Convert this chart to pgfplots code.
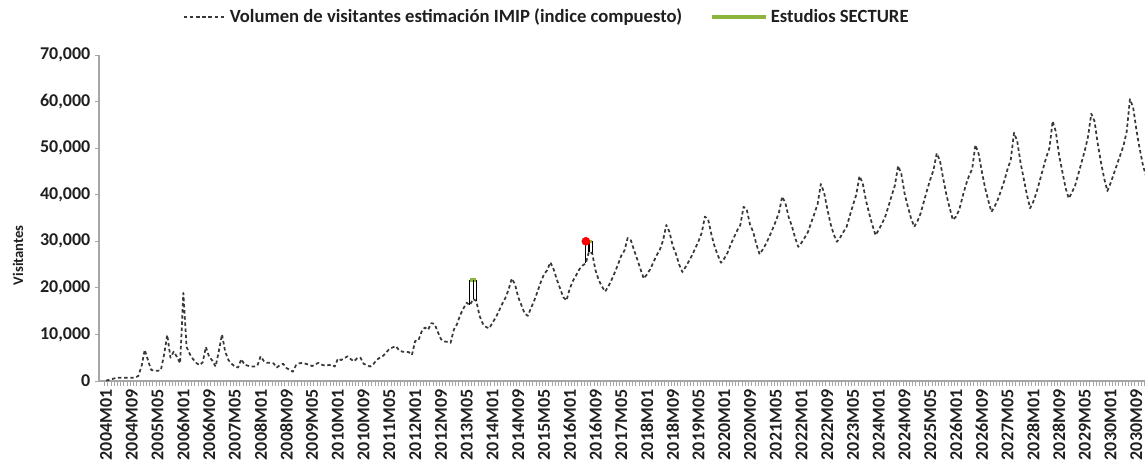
\documentclass[border=0pt]{standalone}
\usepackage{fontspec}
\setmainfont{Carlito}
\usepackage{pgfplots}
\pgfplotsset{compat=1.18}
\usepackage{pgfplotstable}
\definecolor{secgreen}{HTML}{8DB53E}
\definecolor{axgray}{HTML}{A6A6A6}
\definecolor{linegray}{HTML}{383838}
\pgfplotstableread[row sep=\\]{
m v\\
0 100\\ 1 250\\ 2 450\\ 3 650\\ 4 700\\ 5 700\\ 6 700\\ 7 700\\ 8 700\\ 9 700\\ 10 1100\\ 11 3100\\
12 6700\\ 13 4500\\ 14 2400\\ 15 2200\\ 16 2200\\ 17 2300\\ 18 5600\\ 19 9900\\ 20 5000\\ 21 6300\\ 22 5200\\ 23 3800\\
24 18900\\ 25 7300\\ 26 5800\\ 27 4700\\ 28 3900\\ 29 3400\\ 30 4000\\ 31 7300\\ 32 5200\\ 33 4400\\ 34 3100\\ 35 6300\\
36 10000\\ 37 6300\\ 38 4500\\ 39 3700\\ 40 3100\\ 41 2900\\ 42 4700\\ 43 3500\\ 44 3300\\ 45 3100\\ 46 3100\\ 47 3300\\
48 5300\\ 49 4300\\ 50 3900\\ 51 3900\\ 52 3800\\ 53 2900\\ 54 3400\\ 55 3700\\ 56 2800\\ 57 2400\\ 58 2000\\ 59 3400\\
60 3800\\ 61 3900\\ 62 3700\\ 63 3500\\ 64 3200\\ 65 3600\\ 66 3900\\ 67 3500\\ 68 3300\\ 69 3400\\ 70 3500\\ 71 3100\\
72 4800\\ 73 4500\\ 74 4900\\ 75 5300\\ 76 4700\\ 77 4200\\ 78 4900\\ 79 5000\\ 80 3700\\ 81 3400\\ 82 3100\\ 83 3600\\
84 4500\\ 85 5000\\ 86 5400\\ 87 6100\\ 88 6900\\ 89 7200\\ 90 7500\\ 91 6600\\ 92 6300\\ 93 6300\\ 94 6200\\ 95 5600\\
96 8600\\ 97 8700\\ 98 10600\\ 99 11500\\ 100 11000\\ 101 12400\\ 102 12300\\ 103 10600\\ 104 9000\\ 105 8500\\ 106 8400\\ 107 8200\\
108 11000\\ 109 12200\\ 110 14200\\ 111 15600\\ 112 16800\\ 113 16300\\ 114 17600\\ 115 17200\\ 116 14000\\ 117 12300\\ 118 11600\\ 119 11300\\
120 12500\\ 121 13600\\ 122 15000\\ 123 16500\\ 124 17800\\ 125 19600\\ 126 22000\\ 127 20800\\ 128 18000\\ 129 16300\\ 130 14500\\ 131 14000\\
132 15700\\ 133 17300\\ 134 19200\\ 135 21200\\ 136 22900\\ 137 23800\\ 138 25500\\ 139 24000\\ 140 21800\\ 141 19900\\ 142 18000\\ 143 17300\\
144 19800\\ 145 21500\\ 146 22700\\ 147 24000\\ 148 24800\\ 149 25300\\ 150 27800\\ 151 27400\\ 152 23800\\ 153 21700\\ 154 20300\\ 155 19200\\
156 20300\\ 157 21700\\ 158 23300\\ 159 25000\\ 160 26900\\ 161 28000\\ 162 30700\\ 163 30200\\ 164 28100\\ 165 26100\\ 166 24000\\ 167 22000\\
168 22900\\ 169 24000\\ 170 25500\\ 171 27000\\ 172 28200\\ 173 30200\\ 174 33500\\ 175 32000\\ 176 29000\\ 177 27300\\ 178 25000\\ 179 23400\\
180 24500\\ 181 25700\\ 182 27000\\ 183 28500\\ 184 30000\\ 185 31800\\ 186 35300\\ 187 34700\\ 188 31500\\ 189 28900\\ 190 27000\\ 191 25400\\
192 26300\\ 193 27500\\ 194 29300\\ 195 30800\\ 196 32300\\ 197 33500\\ 198 37400\\ 199 36800\\ 200 33600\\ 201 32000\\ 202 29300\\ 203 27200\\
204 28300\\ 205 29500\\ 206 31000\\ 207 32600\\ 208 34300\\ 209 36200\\ 210 39600\\ 211 38200\\ 212 35200\\ 213 33300\\ 214 30800\\ 215 28800\\
216 29700\\ 217 30800\\ 218 32000\\ 219 34000\\ 220 35900\\ 221 38000\\ 222 42300\\ 223 40500\\ 224 37000\\ 225 33800\\ 226 31500\\ 227 29900\\
228 30800\\ 229 32000\\ 230 33100\\ 231 35500\\ 232 37800\\ 233 40000\\ 234 44000\\ 235 42500\\ 236 38800\\ 237 36000\\ 238 33500\\ 239 31300\\
240 32500\\ 241 33800\\ 242 35300\\ 243 37500\\ 244 39800\\ 245 42000\\ 246 46200\\ 247 44500\\ 248 40300\\ 249 37500\\ 250 35000\\ 251 33100\\
252 34300\\ 253 36000\\ 254 38500\\ 255 41000\\ 256 43300\\ 257 45300\\ 258 48900\\ 259 47300\\ 260 43500\\ 261 40000\\ 262 37200\\ 263 34600\\
264 35300\\ 265 36800\\ 266 39500\\ 267 42000\\ 268 44000\\ 269 45500\\ 270 50700\\ 271 48800\\ 272 45000\\ 273 41500\\ 274 38800\\ 275 36300\\
276 37500\\ 277 39000\\ 278 41000\\ 279 43000\\ 280 45500\\ 281 47500\\ 282 53300\\ 283 51500\\ 284 47000\\ 285 43500\\ 286 40000\\ 287 37100\\
288 38500\\ 289 40500\\ 290 43000\\ 291 45500\\ 292 48000\\ 293 50000\\ 294 55800\\ 295 53500\\ 296 48500\\ 297 45000\\ 298 41500\\ 299 39200\\
300 40500\\ 301 42000\\ 302 44500\\ 303 47000\\ 304 49500\\ 305 52500\\ 306 57400\\ 307 55800\\ 308 51000\\ 309 47000\\ 310 43500\\ 311 40800\\
312 42500\\ 313 44500\\ 314 46500\\ 315 48500\\ 316 50500\\ 317 53500\\ 318 60500\\ 319 58800\\ 320 54000\\ 321 50000\\ 322 46500\\ 323 44000\\
}\imip

\begin{document}
\begin{tikzpicture}
\useasboundingbox (-74.25pt,-70.5pt) rectangle (784.5pt,285.75pt);
\begin{axis}[
  at={(0pt,0pt)}, anchor=south west,
  scale only axis, width=785.25pt, height=244.5pt,
  xmin=-2.2, xmax=323, ymin=0, ymax=70000,
  axis x line*=bottom, axis y line*=left,
  axis line style={axgray, line width=0.8pt},
  tick align=outside,
  tick style={axgray, line width=0.6pt},
  major tick length=3pt, minor tick length=3.75pt,
  ytick={0,10000,...,70000},
  scaled y ticks=false,
  yticklabel={\pgfmathprintnumber[fixed,1000 sep={,},assume math mode=true]{\tick}},
  xtick={0,8,...,320},
  xticklabels={2004M01,2004M09,2005M05,2006M01,2006M09,2007M05,2008M01,2008M09,2009M05,2010M01,2010M09,2011M05,2012M01,2012M09,2013M05,2014M01,2014M09,2015M05,2016M01,2016M09,2017M05,2018M01,2018M09,2019M05,2020M01,2020M09,2021M05,2022M01,2022M09,2023M05,2024M01,2024M09,2025M05,2026M01,2026M09,2027M05,2028M01,2028M09,2029M05,2030M01,2030M09},
  minor xtick={-0.5,0.5,...,322.5},
  major x tick style={draw=none},
  minor x tick style={axgray, line width=0.5pt},
  xticklabel style={rotate=90, anchor=east},
  tick label style={font=\fontsize{13.5}{15}\selectfont\bfseries, text=black!88},
  ylabel={Visitantes},
  ylabel style={font=\fontsize{11}{12}\selectfont\bfseries, text=black!88, at={(axis description cs:-0.0774,0.386)}, anchor=center},
  legend columns=2,
  legend cell align=left,
  legend style={at={(axis description cs:0.0802,1.1166)}, anchor=west, draw=none, fill=none,
    font=\fontsize{14}{16}\selectfont\bfseries, text=black!88, inner sep=0pt,
    /tikz/every even column/.append style={column sep=19pt}},
]
\addplot[linegray, line width=1.3pt, dash pattern=on 2.6pt off 2pt, line join=round,
  legend image code/.code={\draw[linegray, line width=0.9pt, dash pattern=on 2.6pt off 2pt] (0pt,0pt) -- (32pt,0pt);}]
  table[x=m, y=v]{\imip};
\addlegendentry{Volumen de visitantes estimación IMIP (indice compuesto)}
\addplot[secgreen, line width=2.5pt,
  legend image code/.code={\draw[secgreen, line width=3pt] (0pt,0pt) -- (40.5pt,0pt);}]
  coordinates {(113,21700) (115,21700)};
\addlegendentry{Estudios SECTURE}
\addplot[black, line width=0.8pt, forget plot] coordinates {(113,16300) (113,21700)};
\addplot[black, line width=0.8pt, forget plot] coordinates {(114,17600) (114,21700)};
\addplot[black, line width=0.8pt, forget plot] coordinates {(115,17200) (115,21700)};
\addplot[black, line width=0.8pt, forget plot] coordinates {(149,25300) (149,30000)};
\addplot[black, line width=0.8pt, forget plot] coordinates {(150,27800) (150,30000)};
\addplot[black, line width=0.8pt, forget plot] coordinates {(151,27400) (151,30000)};
\addplot[secgreen, line width=2.5pt, forget plot] coordinates {(149,30000) (151,30000)};
\addplot[only marks, mark=*, mark size=3pt, red, forget plot] coordinates {(149,30000)};
\end{axis}
\end{tikzpicture}
\end{document}
